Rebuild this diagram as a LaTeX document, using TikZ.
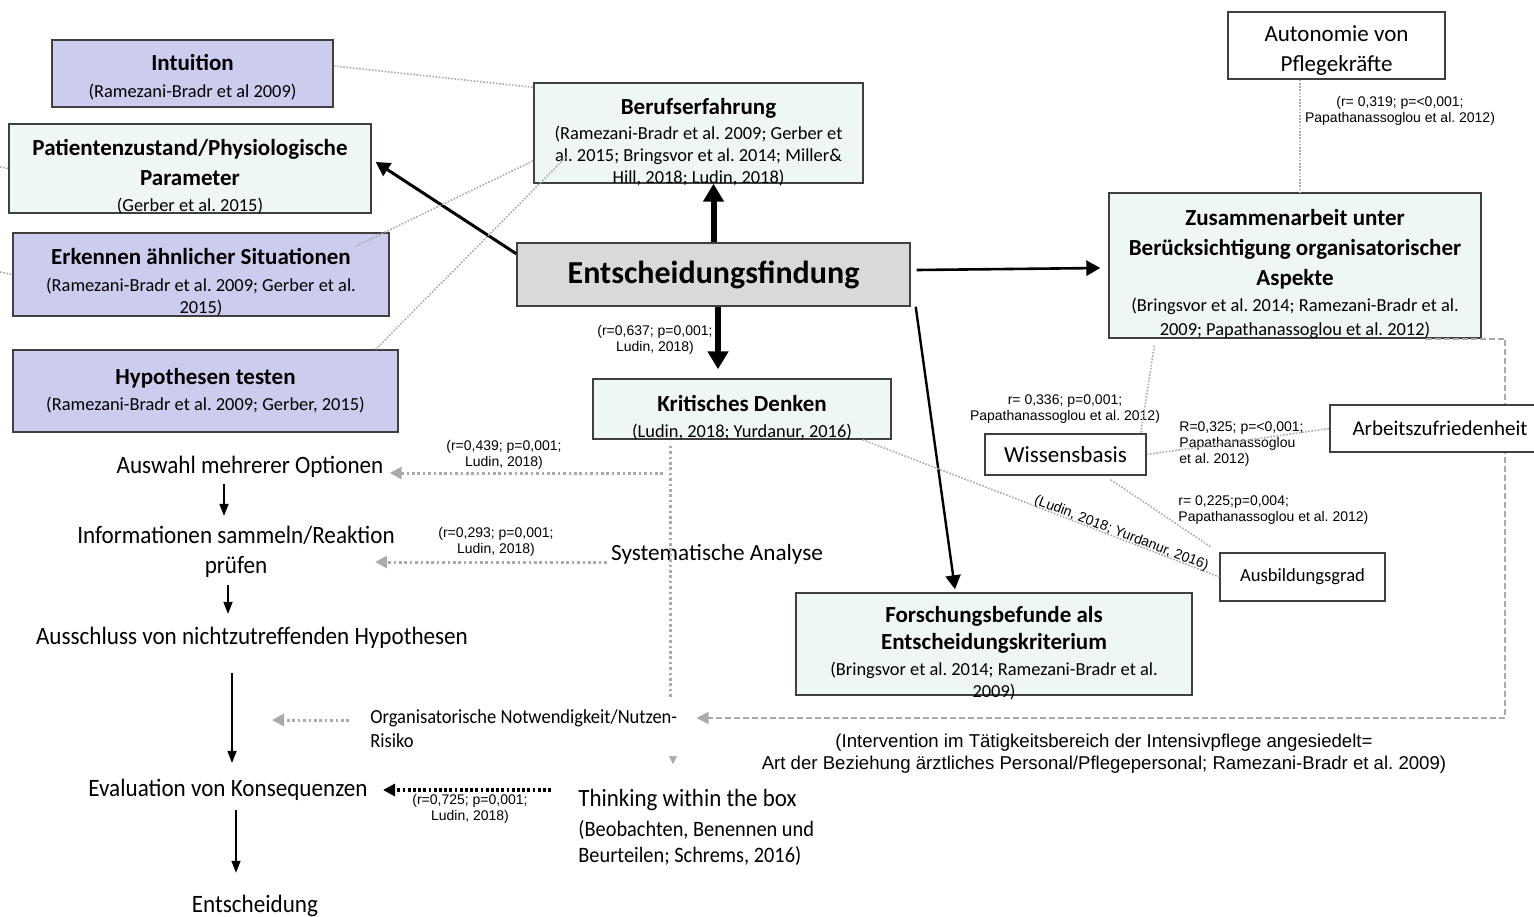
\documentclass[tikz,border=0pt]{standalone}
\usepackage{fontspec}
\setmainfont{Carlito}
\newfontfamily\arialfont{Liberation Sans}
\newfontfamily\schmalfont[FakeStretch=0.925]{Carlito}
\usepackage{tikz}
\usetikzlibrary{arrows.meta}
\frenchspacing

\definecolor{lila}{RGB}{204,204,238}
\definecolor{hellcyan}{RGB}{238,247,246}
\definecolor{hellgrau}{RGB}{217,217,217}
\definecolor{rahmen}{RGB}{64,64,64}
\definecolor{punktgrau}{RGB}{170,170,170}

\newcommand{\quelle}[1]{{\mdseries\fontsize{9.2}{11}\selectfont #1\par}}

\begin{document}
\begin{tikzpicture}[x=0.5pt,y=-0.5pt]
\tikzset{kasten/.style={draw=rahmen,line width=0.7pt,align=flush center,inner sep=0pt,
  font=\fontsize{11.5}{15}\selectfont\bfseries},
lilabox/.style={kasten,fill=lila},
cyanbox/.style={kasten,fill=hellcyan},
leerbox/.style={draw=rahmen,line width=0.7pt,fill=white,align=center,inner sep=0pt,
  font=\fontsize{11.5}{15}\selectfont},
tief/.style={execute at begin node={\rule{0pt}{\dimexpr 8.4pt+#1\relax}},
  execute at end node={\par\vspace{-#1}}},
schritt/.style={font=\schmalfont\fontsize{12.5}{15}\selectfont,align=center,inner sep=1pt},
wert/.style={font=\arialfont\fontsize{7}{8}\selectfont,align=center,inner sep=0pt},
dickpfeil/.style={-{Triangle[length=9pt,width=10pt]},line width=3pt},
pfeil/.style={-{Triangle[length=7pt,width=7.5pt]},line width=1.5pt},
duennpfeil/.style={-{Triangle[length=6pt,width=4.5pt]},line width=0.8pt},
punktlinie/.style={draw=punktgrau,line width=0.8pt,dash pattern=on 0.8pt off 0.8pt},
punktgrob/.style={draw=punktgrau,line width=1.5pt,dash pattern=on 1.3pt off 1.4pt},
punktpfeil/.style={punktgrob,-{Triangle[length=6pt,width=6pt]}},
strichpfeil/.style={draw=punktgrau,line width=0.9pt,dash pattern=on 3pt off 1.5pt,
  -{Triangle[length=6pt,width=6pt]}},
schwarzpfeil/.style={line width=1.8pt,dash pattern=on 1.4pt off 1.2pt,
  -{Triangle[length=6pt,width=6pt]}}}

\useasboundingbox (0,0) rectangle (1534,916);

%% Kaesten links
\node (intu) [lilabox,tief=1.5pt,minimum width=140.5pt,minimum height=33.5pt,text width=136pt] at (192.5,73.5)
  {Intuition\par\vspace{2.5pt}\quelle{(Ramezani-Bradr et al 2009)}};
\node (pat) [cyanbox,tief=4pt,minimum width=181pt,minimum height=44.5pt,text width=177pt] at (190,168.5)
  {Patientenzustand/Physiologische\\Parameter\par\vspace{2pt}\quelle{(Gerber et al. 2015)}};
\node (ek) [lilabox,tief=3.5pt,minimum width=188pt,minimum height=41.5pt,text width=184pt] at (201,274.5)
  {Erkennen ähnlicher Situationen\par\vspace{2.5pt}\quelle{(Ramezani-Bradr et al. 2009; Gerber et al.\\2015)}};
\node (hy) [lilabox,minimum width=192.5pt,minimum height=41pt,text width=188pt] at (205.5,391)
  {Hypothesen testen\par\vspace{2pt}\quelle{(Ramezani-Bradr et al. 2009; Gerber, 2015)}};

%% Mitte
\node (bf) [cyanbox,tief=4.5pt,minimum width=164.5pt,minimum height=50pt,text width=160.5pt] at (698.5,133)
  {Berufserfahrung\par\vspace{1.5pt}\quelle{(Ramezani-Bradr et al. 2009; Gerber et\\al. 2015; Bringsvor et al. 2014; Miller\&\\Hill, 2018; Ludin, 2018)}};
\node (ef) [kasten,fill=hellgrau,font=\fontsize{16}{19}\selectfont\bfseries,minimum width=196.5pt,minimum height=31.5pt] at (713.5,274.5)
  {Entscheidungsfindung};
\node (kd) [cyanbox,tief=4pt,minimum width=149pt,minimum height=30pt,text width=145pt] at (742,409)
  {Kritisches Denken\par\vspace{2pt}\quelle{(Ludin, 2018; Yurdanur, 2016)}};
\node (fb) [cyanbox,tief=4.5pt,font=\fontsize{11.5}{13.5}\selectfont\bfseries,minimum width=198pt,minimum height=51pt,text width=194pt] at (994,644)
  {Forschungsbefunde als\\Entscheidungskriterium\par\vspace{2pt}\quelle{(Bringsvor et al. 2014; Ramezani-Bradr et al.\\2009)}};

%% Rechts
\node (au) [leerbox,align=flush center,tief=2.5pt,minimum width=108.5pt,minimum height=33.5pt,text width=104pt] at (1336.5,45.5)
  {Autonomie von\\Pflegekräfte};
\node (zus) [cyanbox,tief=4pt,minimum width=186pt,minimum height=72.5pt,text width=182pt] at (1295,265.5)
  {Zusammenarbeit unter\\Berücksichtigung organisatorischer\\Aspekte\par\vspace{1pt}{\mdseries\fontsize{9.2}{12}\selectfont (Bringsvor et al. 2014; Ramezani-Bradr et al.\\2009; Papathanassoglou et al. 2012)\par}};
\node (ws) [leerbox,minimum width=80.5pt,minimum height=20.5pt] at (1065.5,454.5) {Wissensbasis};
\node (ab) [leerbox,font=\fontsize{9.3}{11}\selectfont,minimum width=82.5pt,minimum height=24pt] at (1302.5,577) {Ausbildungsgrad};

%% Ablauf links
\node (op1) [schritt] at (250,467) {Auswahl mehrerer Optionen};
\node (op2) [schritt] at (236,552) {Informationen sammeln/Reaktion\\prüfen};
\node (op3) [schritt] at (252,638) {Ausschluss von nichtzutreffenden Hypothesen};
\node (op4) [schritt] at (228,790) {Evaluation von Konsequenzen};
\node (op5) [schritt] at (255,906) {Entscheidung};

\node (sys) [font=\fontsize{11.6}{13}\selectfont,inner sep=1pt] at (717,554) {Systematische Analyse};
\node (org) [schritt,font=\schmalfont\fontsize{10}{12}\selectfont,align=left,anchor=west] at (368,729)
  {Organisatorische Notwendigkeit/Nutzen-\\Risiko};
\node (think) [schritt,font=\schmalfont\fontsize{12.4}{15}\selectfont,anchor=west] at (576,800) {Thinking within the box};
\node (thinkq) [schritt,font=\schmalfont\fontsize{11}{13}\selectfont,align=left,anchor=north west] at (576,818)
  {(Beobachten, Benennen und\\Beurteilen; Schrems, 2016)};
\node (inter) [wert,font=\arialfont\fontsize{9.3}{11}\selectfont] at (1104,754)
  {(Intervention im Tätigkeitsbereich der Intensivpflege angesiedelt=\\Art der Beziehung ärztliches Personal/Pflegepersonal; Ramezani-Bradr et al. 2009)};

%% Werte
\node (wef) [wert] at (655,340) {(r=0,637; p=0,001;\\Ludin, 2018)};
\node (wau) [wert] at (1400,110.5) {(r= 0,319; p=<0,001;\\Papathanassoglou et al. 2012)};
\node (wws) [wert] at (1065,409) {r= 0,336; p=0,001;\\Papathanassoglou et al. 2012)};
\node (waz) [wert,align=left,anchor=west] at (1179,444) {R=0,325; p=<0,001;\\Papathanassoglou\\et al. 2012)};
\node (wab) [wert,align=left,anchor=west] at (1178,510) {r= 0,225;p=0,004;\\Papathanassoglou et al. 2012)};
\node (wop1) [wert] at (504,455) {(r=0,439; p=0,001;\\Ludin, 2018)};
\node (wop2) [wert] at (496,542) {(r=0,293; p=0,001;\\Ludin, 2018)};
\node (wop4) [wert] at (470,809) {(r=0,725; p=0,001;\\Ludin, 2018)};

%% Edges
\draw[dickpfeil] (ef.north) -- (ef.north |- bf.south);
\draw[dickpfeil,shorten >=4.5pt] ([xshift=2.25pt]ef.south) -- ([xshift=2.25pt]ef.south |- kd.north);
\draw[pfeil] (ef.174) -- ([xshift=2pt,yshift=3.25pt]pat.east);
\draw[pfeil,line width=1.3pt] ([xshift=3pt,yshift=2.25pt]ef.east) -- ([xshift=-4pt,yshift=-1.25pt]zus.west);
\draw[pfeil,line width=1.2pt] ([xshift=2.5pt]ef.south east) -- ([xshift=-19.5pt,yshift=1.5pt]fb.north);

\draw[duennpfeil,shorten <=2pt,shorten >=4pt] ([xshift=-13pt]op1.south) -- ([xshift=-13pt]op1.south |- op2.north);
\draw[duennpfeil,shorten <=2.5pt,shorten >=5.5pt] ([xshift=-4pt]op2.south) -- ([xshift=-4pt]op2.south |- op3.north);
\draw[duennpfeil,shorten <=11pt,shorten >=7pt] ([xshift=-10pt]op3.south) -- ([xshift=-10pt]op3.south |- op4.north);
\draw[duennpfeil,shorten <=3.5pt,shorten >=10pt] ([xshift=4pt]op4.south) -- ([xshift=4pt]op4.south |- op5.north);

\coordinate (randA) at (0,167);
\coordinate (randB) at (0,272);
\draw[punktlinie] (randA) -- (pat.west);
\draw[punktlinie] (randB) -- (ek.west);
\draw[punktlinie] ([yshift=3.75pt]intu.east) -- ([yshift=-2.5pt]bf.north west);
\draw[punktlinie] ([xshift=-17pt,yshift=-7pt]ek.north east) -- ([yshift=11.5pt]bf.south west);
\draw[punktlinie] ([xshift=-11.5pt]hy.north east) -- ([xshift=16.5pt,yshift=13.5pt]bf.south west);
\draw[punktlinie] ([xshift=2.5pt]zus.north |- au.south) -- ([xshift=2.5pt]zus.north);
\draw[punktlinie] ([xshift=23pt,yshift=-3.5pt]zus.south west) -- ([xshift=-3pt]ws.north east);
\draw[punktlinie] ([xshift=-18pt,yshift=-2pt]ws.south east) -- ([xshift=-4pt,yshift=2.5pt]ab.north west);
\draw[punktlinie] ([xshift=-14.5pt]kd.south east) -- node (wkd) [wert,sloped,pos=0.72,above=-1pt] {(Ludin, 2018; Yurdanur, 2016)} (ab.west);

\coordinate (kdfuss) at ([xshift=-36pt,yshift=-3pt]kd.south);
\coordinate (kdende) at (670,697);
\coordinate (spitze) at (673,764);
\draw[punktgrob] (kdfuss) -- (kdende);
\draw[punktgrau,line width=0.3pt,-{Triangle[length=4pt,width=4pt]}] ([yshift=3pt]spitze) -- (spitze);
\draw[punktpfeil] ([xshift=-3.5pt,yshift=-3pt]kdfuss |- op1.east) -- ([xshift=2pt,yshift=-3pt]op1.east);
\draw[punktpfeil] ([xshift=-1pt,yshift=-4pt]sys.west) -- ([xshift=-11pt,yshift=-4pt]sys.west -| op2.east);
\draw[punktpfeil] ([xshift=-9.5pt,yshift=4.5pt]org.west) -- ([xshift=-48pt,yshift=4.5pt]org.west);
\coordinate (ecke) at (1505,718);
\draw[strichpfeil] ([xshift=-28pt]zus.south east) -| (ecke) -- ([xshift=8.5pt]ecke -| org.east);
\draw[schwarzpfeil] ([xshift=-12.5pt]op4.east -| think.west) -- ([xshift=6.5pt]op4.east);

\node (az) [leerbox,font=\fontsize{10.5}{13}\selectfont,minimum width=110pt,minimum height=23.5pt] at (1440,428.5) {Arbeitszufriedenheit};
\draw[punktlinie] (ws.east) -- (az.west);

\end{tikzpicture}
\end{document}
